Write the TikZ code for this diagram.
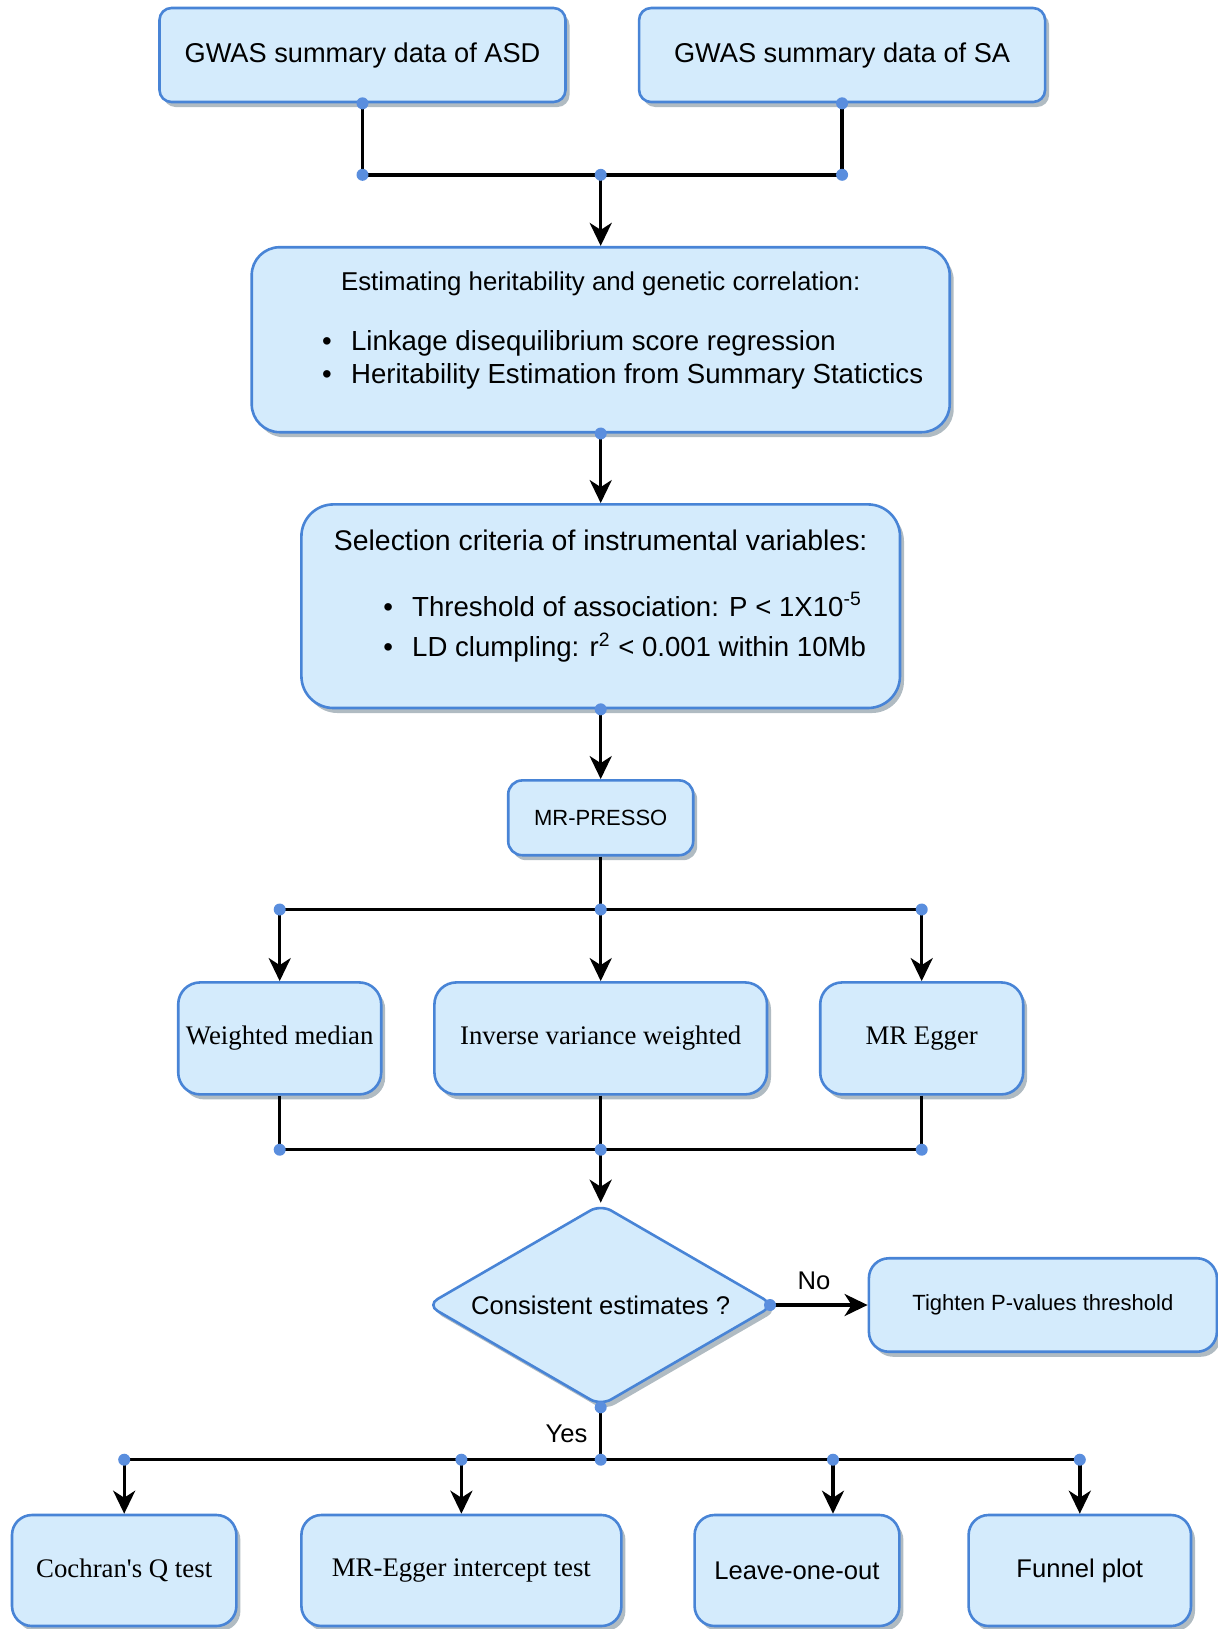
\documentclass[tikz,border=0pt]{standalone}
\usepackage{fontspec}
\setmainfont{Liberation Sans}
\newfontfamily\timesfont{Liberation Serif}
\usetikzlibrary{positioning,arrows.meta,shapes.geometric,shadows}
\definecolor{boxfill}{RGB}{212,235,252}
\definecolor{boxline}{RGB}{72,132,214}
\definecolor{dotblue}{RGB}{90,142,222}
\definecolor{shadowgrey}{RGB}{176,187,194}

\begin{document}
\begin{tikzpicture}[x=0.5pt,y=-0.5pt,
  box/.style={draw=boxline,fill=boxfill,line width=1.3pt,rounded corners=6pt,align=center,inner sep=2pt,
    font=\fontsize{13.6}{16.3}\selectfont,drop shadow={shadow xshift=2pt,shadow yshift=-2.5pt,fill=shadowgrey,opacity=1}},
  bigbox/.style={box,font=\fontsize{13.8}{16.5}\selectfont},
  serifbox/.style={box,rounded corners=10pt,font=\timesfont\fontsize{13.4}{16}\selectfont},
  smallbox/.style={box,font=\fontsize{11}{13.2}\selectfont},
  midbox/.style={box,rounded corners=10pt,font=\fontsize{12.8}{15}\selectfont},
  diam/.style={box,diamond,aspect=1.75,inner sep=0pt,minimum width=174pt,minimum height=101pt,font=\fontsize{12.8}{15}\selectfont},
  conn/.style={line width=1.7pt},
  arr/.style={conn,-{Stealth[length=11.5pt,width=11pt,inset=3.5pt]}},
  jdot/.style={fill=dotblue},
  lbl/.style={inner sep=0pt,font=\fontsize{12.8}{15}\selectfont}]
\useasboundingbox (0,0) rectangle (1218,1629);
% inputs
\node[box,minimum width=203pt,minimum height=47pt] (asd) at (362.5,55) {GWAS summary data of ASD};
\node[box,minimum width=203pt,minimum height=47pt,right=35.5pt of asd] (sa) {GWAS summary data of SA};
% main column
\node[bigbox,rounded corners=14pt,minimum width=349pt,minimum height=92.5pt,text depth=12.3pt] (her) at (600.7,339.7)
  {{\fontsize{12.9}{15.5}\selectfont Estimating heritability and genetic correlation:}\\[14.7pt]\hspace*{22pt}\begin{tabular}[b]{@{}l@{\hspace{9.6pt}}l@{}}\textbullet&Linkage disequilibrium score regression\\\textbullet&Heritability Estimation from Summary Statictics\end{tabular}};
\node[bigbox,rounded corners=16pt,minimum width=299.3pt,minimum height=101.8pt,text depth=12.8pt,below=34.8pt of her] (sel)
  {{\fontsize{14.2}{17}\selectfont Selection criteria of instrumental variables:}\\[19.7pt]\hspace*{24pt}\begin{tabular}[b]{@{}l@{\hspace{9.6pt}}l@{}}\textbullet&Threshold of association: P < 1X10\textsuperscript{-5}\\[3.4pt]\textbullet&LD clumpling: r\textsuperscript{2} < 0.001 within 10Mb\end{tabular}};
\node[smallbox,rounded corners=7pt,minimum width=92.5pt,minimum height=37.4pt,below=34.9pt of sel] (pres) {MR-PRESSO};
% methods
\node[serifbox,rounded corners=11pt,minimum width=166.3pt,minimum height=56pt,below=62.3pt of pres] (ivw) {Inverse variance weighted};
\node[serifbox,rounded corners=11pt,minimum width=101.5pt,minimum height=56pt,left=25.3pt of ivw] (wm) {Weighted median};
\node[serifbox,rounded corners=11pt,minimum width=101.5pt,minimum height=56pt,right=25.3pt of ivw] (mre) {MR Egger};
\node[diam,below=53.5pt of ivw] (dec) {Consistent estimates ?};
\node[smallbox,rounded corners=10pt,minimum width=174pt,minimum height=46.75pt,right=45.8pt of dec] (tight) {Tighten P-values threshold};
% sensitivity analyses
\node[serifbox,minimum width=160pt,minimum height=55.5pt] (egi) at (461.4,1570.5) {MR-Egger intercept test};
\node[serifbox,minimum width=112.2pt,minimum height=55.5pt,left=31.2pt of egi] (cq) {Cochran\textquotesingle s Q test};
\node[midbox,minimum width=102.4pt,minimum height=55.5pt,right=35.3pt of egi] (loo) {Leave-one-out};
\node[midbox,minimum width=111.2pt,minimum height=55.5pt,right=33.3pt of loo] (fun) {Funnel plot};
% junctions
\coordinate (j1) at ([yshift=-35.75pt]asd.south);
\coordinate (j2) at ([yshift=-26.5pt]pres.south);
\coordinate (j3) at ([yshift=-27pt]ivw.south);
\coordinate (r4) at ([yshift=27pt]egi.north);
\coordinate (j4) at (r4 -| dec.south);
\coordinate (decr) at ([xshift=-3pt]dec.east);
\coordinate (lootop) at ([xshift=18pt]loo.north);
% connectors
\draw[conn] (asd.south) |- (sa.south |- j1) -- (sa.south);
\draw[arr] (j1 -| her.north) -- (her.north);
\draw[arr] (her.south) -- (sel.north);\draw[arr] (sel.south) -- (pres.north);
\draw[conn] (pres.south) -- (j2);\draw[conn] (j2 -| wm.north) -- (j2 -| mre.north);
\foreach \n in {wm,ivw,mre} \draw[arr] (j2 -| \n.north) -- (\n.north);
\foreach \n in {wm,ivw,mre} \draw[conn] (\n.south) -- (j3 -| \n.south);
\draw[conn] (j3 -| wm.south) -- (j3 -| mre.south);
\draw[arr] (j3) -- (dec.north);
\draw[arr] (decr) -- node[lbl,above=7pt,pos=0.45] {No} (tight.west);
\draw[conn] (dec.south) -- node[lbl,left=5.8pt] {Yes} (j4);
\draw[conn] (j4 -| cq.north) -- (j4 -| fun.north);
\foreach \n in {cq,egi,fun} \draw[arr] (j4 -| \n.north) -- (\n.north);
\draw[arr] (j4 -| lootop) -- (lootop);
% dots
\foreach \p in {asd.south,sa.south,j1,j1 -| her.north,j1 -| sa.south,her.south,sel.south,
  j2 -| wm.north,j2,j2 -| mre.north,j3 -| wm.south,j3,j3 -| mre.south,decr,dec.south,
  j4 -| cq.north,j4 -| egi.north,j4,j4 -| lootop,j4 -| fun.north}
  \fill[jdot] (\p) circle (3pt);
\end{tikzpicture}
\end{document}
